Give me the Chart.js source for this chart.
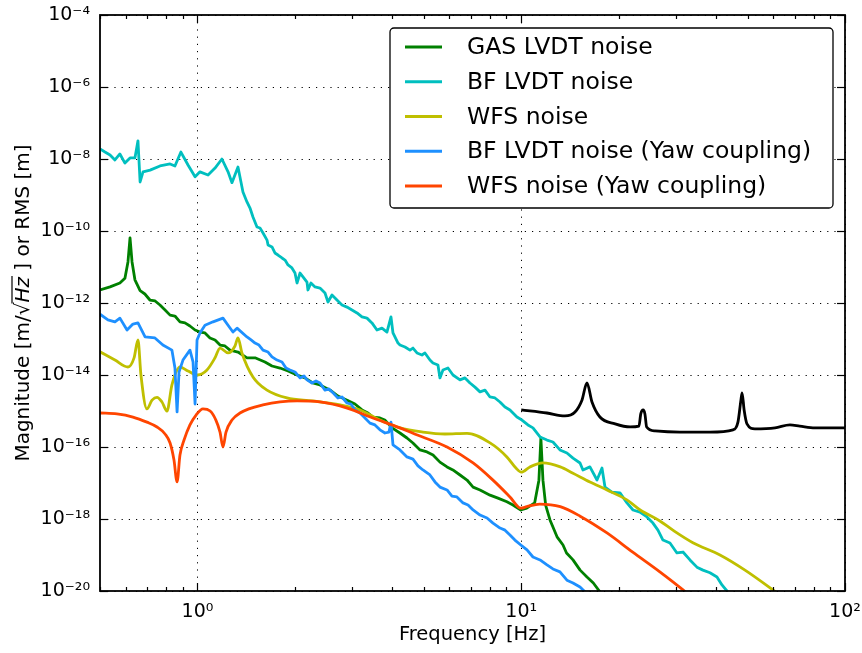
<!DOCTYPE html>
<html lang="en">
<head>
  <meta charset="UTF-8">
  <title>LVDT / WFS noise budget</title>
  <script src="https://cdn.jsdelivr.net/npm/chart.js"></script>
  <style>
    html, body { margin: 0; padding: 0; background: #fff; }
    canvas { display: block; }
  </style>
</head>
<body>
  <canvas id="noiseChart" width="862" height="653"></canvas>
  <script>
    // values: frequency [Hz] and magnitude [m/rtHz or m]
    const gasFreq = [0.5, 0.537, 0.576, 0.597, 0.61, 0.619, 0.628, 0.641, 0.665, 0.688, 0.713, 0.740, 0.766, 0.794, 0.823, 0.852, 0.883, 0.915, 0.948, 0.983, 1.018, 1.055, 1.093, 1.133, 1.174, 1.216, 1.26, 1.334, 1.422, 1.506, 1.616, 1.699, 1.798, 1.904, 2.03, 2.148, 2.27, 2.39, 2.57, 2.716, 2.90, 3.065, 3.222, 3.363, 3.48, 3.661, 3.79, 3.99, 4.22, 4.437, 4.63, 4.868, 5.116, 5.34, 5.61, 5.90, 6.15, 6.47, 6.80, 7.10, 7.46, 8.01, 8.475, 9.03, 9.43, 9.97, 10.4, 11.0, 11.34, 11.5, 11.67, 11.9, 12.27, 12.9, 13.46, 13.8, 14.45, 15.2, 15.96, 16.7, 17.8];
    const gasMag = [2.3e-12, 2.8e-12, 3.6e-12, 4.9e-12, 1.38e-11, 6.4e-11, 1.38e-11, 4.4e-12, 2.2e-12, 1.78e-12, 1.21e-12, 1.14e-12, 8.8e-13, 6.4e-13, 4.6e-13, 4.35e-13, 3.0e-13, 2.8e-13, 2.3e-13, 1.78e-13, 1.56e-13, 1.47e-13, 1.07e-13, 9.4e-14, 6.8e-14, 6.4e-14, 4.9e-14, 4.35e-14, 3.0e-14, 3.0e-14, 2.3e-14, 1.78e-14, 1.56e-14, 1.29e-14, 1.0e-14, 8.3e-15, 6.0e-15, 5.3e-15, 3.8e-15, 2.6e-15, 2.0e-15, 1.56e-15, 1.07e-15, 8.8e-16, 6.8e-16, 6.4e-16, 5.6e-16, 3.4e-16, 2.45e-16, 1.78e-16, 1.29e-16, 8.3e-17, 7.3e-17, 6.0e-17, 3.8e-17, 2.8e-17, 2.3e-17, 1.67e-17, 1.21e-17, 7.7e-18, 6.4e-18, 4.6e-18, 3.8e-18, 3.0e-18, 2.45e-18, 1.78e-18, 2.0e-18, 2.8e-18, 1.2e-17, 1.78e-16, 1.2e-17, 2.4e-18, 9.4e-19, 3.2e-19, 1.9e-19, 1.14e-19, 7.3e-20, 3.8e-20, 2.45e-20, 1.67e-20, 7.7e-21];

    const bfFreq = [0.5, 0.518, 0.537, 0.556, 0.576, 0.597, 0.619, 0.641, 0.655, 0.665, 0.679, 0.714, 0.766, 0.823, 0.852, 0.889, 0.935, 0.983, 1.018, 1.078, 1.133, 1.19, 1.243, 1.278, 1.334, 1.382, 1.422, 1.453, 1.484, 1.527, 1.560, 1.594, 1.640, 1.652, 1.699, 1.735, 1.773, 1.824, 1.864, 1.904, 1.958, 2.001, 2.030, 2.074, 2.118, 2.179, 2.194, 2.241, 2.307, 2.390, 2.477, 2.530, 2.603, 2.697, 2.795, 2.896, 3.001, 3.110, 3.222, 3.339, 3.459, 3.584, 3.714, 3.848, 3.960, 4.017, 4.163, 4.222, 4.375, 4.533, 4.630, 4.764, 4.936, 5.042, 5.225, 5.338, 5.531, 5.610, 5.731, 5.938, 6.154, 6.469, 6.703, 6.945, 7.197, 7.458, 7.727, 8.007, 8.297, 8.597, 8.909, 9.231, 9.701, 10.05, 10.49, 10.87, 11.43, 12.01, 12.53, 13.17, 13.84, 14.45, 15.19, 15.51, 16.30, 17.14, 17.76, 18.14, 19.06, 20.18, 21.21, 22.14, 23.27, 24.45, 25.52, 26.44, 27.40, 28.80, 30.26, 31.59, 33.20, 34.89, 36.41, 38.28, 40.23, 41.69, 43.19, 44.76];
    const bfMag = [1.9e-8, 1.56e-8, 1.29e-8, 9.4e-9, 1.38e-8, 7.7e-9, 1.07e-8, 1.07e-8, 3.2e-8, 2.3e-9, 4.4e-9, 4.9e-9, 6.4e-9, 7.3e-9, 6.4e-9, 1.56e-8, 6.8e-9, 3.2e-9, 4.4e-9, 3.6e-9, 5.6e-9, 1.0e-8, 4.4e-9, 2.2e-9, 6.0e-9, 1.21e-9, 6.4e-10, 4.35e-10, 2.45e-10, 1.29e-10, 1.21e-10, 8.8e-11, 5.6e-11, 4.1e-11, 3.6e-11, 2.45e-11, 2.15e-11, 1.78e-11, 1.56e-11, 1.14e-11, 9.4e-12, 6.8e-12, 3.6e-12, 6.8e-12, 5.3e-12, 3.8e-12, 2.3e-12, 3.6e-12, 2.8e-12, 2.6e-12, 1.9e-12, 1.07e-12, 1.67e-12, 1.21e-12, 8.8e-13, 7.7e-13, 6.4e-13, 5.3e-13, 4.1e-13, 3.8e-13, 2.8e-13, 1.78e-13, 2.0e-13, 1.56e-13, 4.1e-13, 1.47e-13, 7.7e-14, 6.8e-14, 6.0e-14, 4.9e-14, 5.6e-14, 4.1e-14, 3.6e-14, 4.1e-14, 2.6e-14, 2.15e-14, 1.9e-14, 8.3e-15, 1.38e-14, 1.56e-14, 1.0e-14, 7.3e-15, 8.3e-15, 6.0e-15, 4.6e-15, 3.4e-15, 3.8e-15, 2.45e-15, 2.3e-15, 1.78e-15, 1.29e-15, 1.07e-15, 6.8e-16, 5.6e-16, 4.1e-16, 3.4e-16, 1.9e-16, 1.56e-16, 1.38e-16, 8.3e-17, 6.8e-17, 4.9e-17, 3.6e-17, 2.3e-17, 2.8e-17, 1.21e-17, 2.6e-17, 7.7e-18, 5.6e-18, 5.3e-18, 2.8e-18, 1.78e-18, 1.56e-18, 1.14e-18, 7.7e-19, 4.9e-19, 2.6e-19, 2.15e-19, 1.14e-19, 1.21e-19, 7.3e-20, 4.6e-20, 3.8e-20, 3.2e-20, 2.45e-20, 1.47e-20, 1.0e-20, 6.4e-21];

    const wfsFreq = [0.5, 0.556, 0.61, 0.637, 0.655, 0.669, 0.698, 0.724, 0.75, 0.777, 0.805, 0.834, 0.883, 0.935, 1.0, 1.07, 1.133, 1.174, 1.243, 1.306, 1.334, 1.372, 1.484, 1.64, 1.89, 2.27, 2.76, 3.18, 3.66, 4.22, 4.97, 5.81, 6.80, 8.01, 9.03, 9.63, 10.0, 10.64, 11.67, 13.2, 14.4, 16.3, 18.4, 21.2, 23.3, 26.8, 29.4, 33.9, 41.1, 49.1, 59.9, 62.9];
    const wfsMag = [4.4e-14, 2.6e-14, 1.67e-14, 3.0e-14, 9.4e-14, 1.0e-14, 1.14e-15, 2.0e-15, 2.4e-15, 1.78e-15, 1.0e-15, 5.3e-15, 1.67e-14, 1.29e-14, 1.0e-14, 1.38e-14, 3.0e-14, 5.6e-14, 4.1e-14, 6.4e-14, 1.07e-13, 4.1e-14, 8.8e-15, 3.8e-15, 2.3e-15, 1.9e-15, 1.47e-15, 1.07e-15, 5.6e-16, 3.4e-16, 2.6e-16, 2.3e-16, 2.4e-16, 1.3e-16, 5.3e-17, 2.6e-17, 2.0e-17, 2.8e-17, 3.6e-17, 2.8e-17, 1.9e-17, 1.07e-17, 6.4e-18, 3.4e-18, 1.78e-18, 8.8e-19, 4.9e-19, 2.2e-19, 1.0e-19, 3.8e-20, 1.07e-20, 7.7e-21];

    const bfYawFreq = [0.5, 0.529, 0.556, 0.576, 0.606, 0.632, 0.655, 0.689, 0.739, 0.782, 0.834, 0.852, 0.865, 0.877, 0.902, 0.948, 0.969, 0.983, 0.997, 1.018, 1.055, 1.117, 1.199, 1.243, 1.287, 1.325, 1.422, 1.464, 1.506, 1.549, 1.594, 1.652, 1.699, 1.761, 1.824, 1.877, 1.931, 2.001, 2.074, 2.133, 2.179, 2.258, 2.323, 2.39, 2.477, 2.548, 2.622, 2.716, 2.795, 2.896, 2.980, 3.065, 3.177, 3.292, 3.410, 3.533, 3.661, 3.794, 3.904, 3.96, 4.017, 4.222, 4.437, 4.63, 4.798, 4.971, 5.225, 5.415, 5.61, 5.90, 6.11, 6.33, 6.61, 6.85, 7.10, 7.46, 7.84, 8.18, 8.60, 8.91, 9.23, 9.56, 9.97, 10.42, 10.87, 11.43, 12.01, 12.53, 13.17, 13.84, 14.45, 15.19, 15.75];
    const bfYawMag = [4.9e-13, 3.4e-13, 3.0e-13, 3.8e-13, 1.78e-13, 2.6e-13, 2.8e-13, 1.14e-13, 1.07e-13, 6.8e-14, 4.9e-14, 1.56e-14, 9.4e-16, 1.2e-14, 2.6e-14, 4.9e-14, 2.3e-14, 1.56e-15, 9.4e-14, 1.47e-13, 2.4e-13, 3.0e-13, 3.8e-13, 2.4e-13, 1.56e-13, 2.0e-13, 1.14e-13, 9.4e-14, 7.7e-14, 6.8e-14, 4.9e-14, 4.35e-14, 3.2e-14, 2.6e-14, 2.3e-14, 1.56e-14, 1.38e-14, 1.21e-14, 8.3e-15, 9.4e-15, 7.3e-15, 6.0e-15, 6.8e-15, 6.0e-15, 3.8e-15, 4.1e-15, 3.2e-15, 2.3e-15, 2.45e-15, 1.67e-15, 1.56e-15, 1.07e-15, 8.8e-16, 6.4e-16, 4.6e-16, 4.1e-16, 3.0e-16, 2.45e-16, 2.6e-16, 4.9e-16, 1.14e-16, 8.3e-17, 5.3e-17, 4.6e-17, 3.0e-17, 2.3e-17, 1.67e-17, 1.07e-17, 7.7e-18, 6.4e-18, 4.35e-18, 4.1e-18, 2.8e-18, 2.45e-18, 1.78e-18, 1.29e-18, 1.07e-18, 7.7e-19, 5.6e-19, 4.9e-19, 3.6e-19, 2.6e-19, 1.9e-19, 1.38e-19, 8.8e-20, 7.3e-20, 5.3e-20, 4.1e-20, 3.4e-20, 2.0e-20, 1.67e-20, 1.29e-20, 9.4e-21];

    const wfsYawFreq = [0.5, 0.564, 0.632, 0.698, 0.75, 0.794, 0.823, 0.846, 0.865, 0.883, 0.909, 0.948, 0.99, 1.04, 1.094, 1.14, 1.174, 1.199, 1.225, 1.278, 1.353, 1.593, 2.03, 2.39, 2.90, 3.48, 4.22, 4.63, 5.90, 7.10, 8.18, 9.23, 9.97, 10.4, 11.4, 13.2, 15.2, 18.4, 22.1, 26.8, 31.6, 33.2];
    const wfsYawMag = [8.8e-16, 8.3e-16, 6.8e-16, 4.9e-16, 3.6e-16, 2.3e-16, 1.29e-16, 4.4e-17, 1.07e-17, 6.0e-17, 1.56e-16, 4.1e-16, 7.7e-16, 1.14e-15, 1.0e-15, 5.6e-16, 2.6e-16, 1.0e-16, 2.6e-16, 5.6e-16, 8.8e-16, 1.47e-15, 1.9e-15, 1.78e-15, 1.2e-15, 6.4e-16, 3.4e-16, 2.4e-16, 1.0e-16, 3.6e-17, 1.2e-17, 4.1e-18, 2.0e-18, 2.2e-18, 2.6e-18, 2.2e-18, 1.2e-18, 4.1e-19, 1.2e-19, 3.4e-20, 1.07e-20, 7.3e-21];

    // black reference curve (no legend entry)
    const refFreq = [10.0, 12.0, 13.65, 14.66, 15.4, 15.96, 16.54, 17.5, 19.5, 21.7, 23.1, 23.4, 23.8, 24.1, 24.4, 25.9, 30.9, 38.3, 45.1, 46.7, 47.7, 48.1, 48.8, 49.8, 52.7, 60.8, 67.6, 72.5, 80.7, 100];
    const refMag = [1.07e-15, 8.8e-16, 7.3e-16, 9.4e-16, 2.0e-15, 6.0e-15, 1.78e-15, 6.8e-16, 4.4e-16, 3.6e-16, 3.8e-16, 8.3e-16, 1.07e-15, 8.3e-16, 3.6e-16, 2.8e-16, 2.6e-16, 2.6e-16, 3.0e-16, 4.9e-16, 2.0e-15, 3.2e-15, 1.07e-15, 4.4e-16, 3.2e-16, 3.4e-16, 4.1e-16, 3.8e-16, 3.4e-16, 3.4e-16];

    // axis ticks
    const xMajor = [1, 10, 100];
    const xMinor = [0.5, 0.6, 0.7, 0.8, 0.9, 2, 3, 4, 5, 6, 7, 8, 9, 20, 30, 40, 50, 60, 70, 80, 90];
    const yMajor = [1e-4, 1e-6, 1e-8, 1e-10, 1e-12, 1e-14, 1e-16, 1e-18, 1e-20];

    const FONT = '"DejaVu Sans", sans-serif';
    Chart.defaults.font.family = FONT;
    Chart.defaults.color = '#000';

    const supChars = { '-': '\u207B', '0': '\u2070', '1': '\u00B9', '2': '\u00B2', '3': '\u00B3', '4': '\u2074', '5': '\u2075', '6': '\u2076', '7': '\u2077', '8': '\u2078', '9': '\u2079' };
    function powLabel(v) {
      const e = Math.round(Math.log10(v));
      return '10' + String(e).split('').map(c => supChars[c]).join('');
    }

    function pairs(f, m) {
      return f.map((v, i) => ({ x: v, y: m[i] }));
    }

    const series = [
      { label: 'GAS LVDT noise', color: '#008000', data: pairs(gasFreq, gasMag), smooth: false },
      { label: 'BF LVDT noise', color: '#00BFBF', data: pairs(bfFreq, bfMag), smooth: false },
      { label: 'WFS noise', color: '#BFBF00', data: pairs(wfsFreq, wfsMag), smooth: true },
      { label: 'BF LVDT noise (Yaw coupling)', color: '#1E90FF', data: pairs(bfYawFreq, bfYawMag), smooth: false },
      { label: 'WFS noise (Yaw coupling)', color: '#FF4500', data: pairs(wfsYawFreq, wfsYawMag), smooth: true },
      { label: '', color: '#000000', data: pairs(refFreq, refMag), smooth: true }
    ];

    const datasets = series.map((s, i) => ({
      label: s.label,
      data: s.data,
      borderColor: s.color,
      backgroundColor: s.color,
      borderWidth: 2.8,
      borderJoinStyle: 'round',
      pointRadius: 0,
      fill: false,
      cubicInterpolationMode: s.smooth ? 'monotone' : 'default',
      tension: 0,
      order: series.length - i // later series drawn on top, like matplotlib
    }));

    function strokeLine(ctx, x1, y1, x2, y2) {
      ctx.beginPath();
      ctx.moveTo(x1, y1);
      ctx.lineTo(x2, y2);
      ctx.stroke();
    }

    const decorations = {
      id: 'decorations',
      beforeDatasetsDraw(chart) {
        const { ctx, chartArea: a, scales: { x, y } } = chart;
        ctx.save();
        ctx.strokeStyle = '#000';
        ctx.lineWidth = 1;
        ctx.setLineDash([1.2, 6]);
        xMajor.forEach(v => {
          const px = Math.round(x.getPixelForValue(v)) + 0.5;
          strokeLine(ctx, px, a.top, px, a.bottom);
        });
        yMajor.forEach(v => {
          const py = Math.round(y.getPixelForValue(v)) + 0.5;
          strokeLine(ctx, a.left, py, a.right, py);
        });
        ctx.restore();
      },
      afterDatasetsDraw(chart) {
        const { ctx, chartArea: a, scales: { x, y } } = chart;
        ctx.save();
        ctx.strokeStyle = '#000';
        ctx.lineWidth = 1.2;
        // tick marks pointing inward on all four sides
        xMajor.concat(xMinor).forEach(v => {
          const len = xMajor.includes(v) ? 8 : 4;
          const px = Math.round(x.getPixelForValue(v)) + 0.5;
          strokeLine(ctx, px, a.bottom, px, a.bottom - len);
          strokeLine(ctx, px, a.top, px, a.top + len);
        });
        yMajor.forEach(v => {
          const py = Math.round(y.getPixelForValue(v)) + 0.5;
          strokeLine(ctx, a.left, py, a.left + 8, py);
          strokeLine(ctx, a.right, py, a.right - 8, py);
        });
        // frame
        ctx.lineWidth = 1.8;
        ctx.strokeRect(a.left, a.top, a.right - a.left, a.bottom - a.top);
        ctx.restore();

        drawLegend(chart);
        drawYTitle(ctx, 22, (a.top + a.bottom) / 2);
      }
    };

    function drawLegend(chart) {
      const { ctx, chartArea: a } = chart;
      const entries = chart.data.datasets.filter(d => d.label);
      const w = 443, h = 180;
      const left = a.right - 12 - w, top = a.top + 13, r = 4;
      ctx.save();
      ctx.beginPath();
      ctx.moveTo(left + r, top);
      ctx.arcTo(left + w, top, left + w, top + h, r);
      ctx.arcTo(left + w, top + h, left, top + h, r);
      ctx.arcTo(left, top + h, left, top, r);
      ctx.arcTo(left, top, left + w, top, r);
      ctx.closePath();
      ctx.fillStyle = '#fff';
      ctx.fill();
      ctx.lineWidth = 1.3;
      ctx.strokeStyle = '#000';
      ctx.stroke();

      ctx.font = '23.5px ' + FONT;
      ctx.textBaseline = 'middle';
      ctx.textAlign = 'left';
      entries.forEach((d, i) => {
        const cy = top + 19 + i * 34.75;
        ctx.strokeStyle = d.borderColor;
        ctx.lineWidth = 2.8;
        strokeLine(ctx, left + 15, cy, left + 52, cy);
        ctx.fillStyle = '#000';
        ctx.fillText(d.label, left + 77, cy + 1);
      });
      ctx.restore();
    }

    function drawYTitle(ctx, cx, cy) {
      const size = 20;
      const normal = size + 'px ' + FONT;
      const italic = 'italic ' + size + 'px ' + FONT;
      const parts = [
        { t: 'Magnitude [m/', f: normal },
        { t: '\u221A', f: normal },
        { t: 'Hz', f: italic, over: true },
        { t: ' ] or RMS [m]', f: normal }
      ];
      ctx.save();
      ctx.translate(cx, cy);
      ctx.rotate(-Math.PI / 2);
      ctx.fillStyle = '#000';
      ctx.strokeStyle = '#000';
      ctx.textBaseline = 'alphabetic';
      ctx.textAlign = 'left';
      let total = 0;
      parts.forEach(p => { ctx.font = p.f; p.w = ctx.measureText(p.t).width; total += p.w; });
      let px = -total / 2;
      const base = 7;
      parts.forEach(p => {
        ctx.font = p.f;
        ctx.fillText(p.t, px, base);
        if (p.over) {
          ctx.lineWidth = 1.2;
          strokeLine(ctx, px - 1, base - 17, px + p.w + 1, base - 17);
        }
        px += p.w;
      });
      ctx.restore();
    }

    const ctx = document.getElementById('noiseChart').getContext('2d');
    new Chart(ctx, {
      type: 'line',
      data: { datasets },
      options: {
        responsive: false,
        animation: false,
        events: [],
        layout: { padding: { left: 0, right: 17, top: 15, bottom: 0 } },
        plugins: {
          legend: { display: false },
          tooltip: { enabled: false }
        },
        scales: {
          x: {
            type: 'logarithmic',
            min: 0.5,
            max: 100,
            afterBuildTicks: s => { s.ticks = xMajor.map(v => ({ value: v })); },
            afterFit: s => { s.height = 62; s.paddingLeft = 0; s.paddingRight = 0; },
            grid: { display: false, drawTicks: false },
            border: { display: false },
            ticks: { callback: v => powLabel(v), font: { size: 19 }, padding: 10, maxRotation: 0, autoSkip: false },
            title: { display: true, text: 'Frequency [Hz]', font: { size: 19.5 }, padding: { top: 0, bottom: 6 } }
          },
          y: {
            type: 'logarithmic',
            min: 1e-20,
            max: 1e-4,
            afterBuildTicks: s => { s.ticks = yMajor.map(v => ({ value: v })); },
            afterFit: s => { s.width = 100; s.paddingTop = 0; s.paddingBottom = 0; },
            grid: { display: false, drawTicks: false },
            border: { display: false },
            ticks: { callback: v => powLabel(v), font: { size: 19 }, padding: 10, autoSkip: false }
          }
        }
      },
      plugins: [decorations]
    });
  </script>
</body>
</html>
